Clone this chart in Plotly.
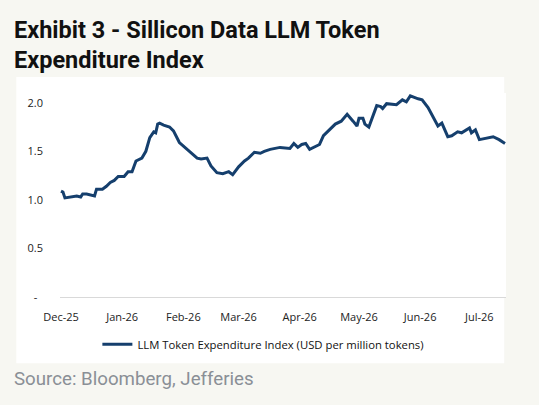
import plotly.graph_objects as go

# index values (USD per million tokens)
dates = [
    "2025-12-01", "2025-12-02", "2025-12-03", "2025-12-06", "2025-12-09", "2025-12-11",
    "2025-12-12", "2025-12-14", "2025-12-17", "2025-12-18", "2025-12-19", "2025-12-22",
    "2025-12-24", "2025-12-26", "2025-12-28", "2025-12-30", "2026-01-02", "2026-01-04",
    "2026-01-06", "2026-01-08", "2026-01-11", "2026-01-13", "2026-01-15", "2026-01-17",
    "2026-01-18", "2026-01-19", "2026-01-20", "2026-01-22", "2026-01-25", "2026-01-27",
    "2026-01-30", "2026-02-03", "2026-02-05", "2026-02-08", "2026-02-10", "2026-02-13",
    "2026-02-15", "2026-02-18", "2026-02-21", "2026-02-24", "2026-02-26", "2026-03-01",
    "2026-03-04", "2026-03-06", "2026-03-09", "2026-03-12", "2026-03-14", "2026-03-17",
    "2026-03-22", "2026-03-27", "2026-03-29", "2026-03-31", "2026-04-02", "2026-04-04",
    "2026-04-06", "2026-04-09", "2026-04-11", "2026-04-13", "2026-04-16", "2026-04-19",
    "2026-04-22", "2026-04-25", "2026-04-28", "2026-04-30", "2026-05-01", "2026-05-03",
    "2026-05-04", "2026-05-06", "2026-05-10", "2026-05-12", "2026-05-13", "2026-05-15",
    "2026-05-20", "2026-05-23", "2026-05-25", "2026-05-27", "2026-05-31", "2026-06-02",
    "2026-06-05", "2026-06-08", "2026-06-10", "2026-06-12", "2026-06-15", "2026-06-17",
    "2026-06-20", "2026-06-22", "2026-06-26", "2026-06-27", "2026-06-29", "2026-07-01",
    "2026-07-05", "2026-07-08", "2026-07-11", "2026-07-14",
]
index_values = [
    1.09, 1.08, 1.02, 1.03, 1.04, 1.03,
    1.06, 1.06, 1.05, 1.04, 1.11, 1.11,
    1.14, 1.18, 1.20, 1.24, 1.24, 1.29,
    1.29, 1.40, 1.43, 1.50, 1.64, 1.70,
    1.69, 1.78, 1.79, 1.77, 1.75, 1.71,
    1.59, 1.52, 1.48, 1.43, 1.42, 1.43,
    1.35, 1.28, 1.27, 1.29, 1.26, 1.34,
    1.40, 1.43, 1.49, 1.48, 1.50, 1.52,
    1.54, 1.53, 1.58, 1.54, 1.57, 1.58,
    1.52, 1.55, 1.57, 1.66, 1.72, 1.78,
    1.81, 1.88, 1.81, 1.76, 1.84, 1.84,
    1.78, 1.75, 1.97, 1.96, 1.94, 1.99,
    1.98, 2.03, 2.01, 2.07, 2.04, 2.03,
    1.95, 1.83, 1.76, 1.79, 1.65, 1.66,
    1.70, 1.69, 1.74, 1.69, 1.72, 1.62,
    1.64, 1.65, 1.62, 1.58,
]

x_tick_dates = ["2025-12-01", "2026-01-01", "2026-02-01", "2026-03-01",
                "2026-04-01", "2026-05-01", "2026-06-01", "2026-07-01"]
x_tick_labels = ["Dec-25", "Jan-26", "Feb-26", "Mar-26", "Apr-26", "May-26", "Jun-26", "Jul-26"]
y_tick_vals = [0, 0.5, 1.0, 1.5, 2.0]
y_tick_labels = ["-  ", "0.5", "1.0", "1.5", "2.0"]

series_name = "LLM Token Expenditure Index (USD per million tokens)"
navy = "#153f6d"
tick_font = dict(family="Open Sans", size=11, color="#222222")
title_font = dict(family="Roboto", size=23.5, color="#111111")

fig = go.Figure()
fig.add_trace(go.Scatter(x=dates, y=index_values, mode="lines", name=series_name,
                         line=dict(color=navy, width=3)))

fig.update_layout(
    width=539, height=405,
    margin=dict(l=60, r=33, t=93, b=108),
    paper_bgcolor="#f7f7f2",
    plot_bgcolor="white",
    showlegend=True,
    legend=dict(orientation="h", x=0.456, xanchor="center", y=-0.16, yanchor="top",
                font=dict(family="Open Sans", size=11.3, color="#111111"),
                bgcolor="rgba(0,0,0,0)"),
    shapes=[dict(type="rect", xref="paper", yref="paper", layer="below",
                 x0=-0.098, x1=0.996, y0=-0.325, y1=1.078,
                 fillcolor="white", line=dict(width=0))],
    annotations=[
        dict(text="<b>Exhibit 3 - Sillicon Data LLM Token</b>", xref="paper", yref="paper",
             x=-0.108, y=1.311, xanchor="left", yanchor="middle", showarrow=False,
             font=title_font),
        dict(text="<b>Expenditure Index</b>", xref="paper", yref="paper",
             x=-0.108, y=1.162, xanchor="left", yanchor="middle", showarrow=False,
             font=title_font),
        dict(text="Source: Bloomberg, Jefferies", xref="paper", yref="paper",
             x=-0.108, y=-0.40, xanchor="left", yanchor="middle", showarrow=False,
             font=dict(family="Roboto", size=18.7, color="#8a8f96")),
    ],
)

fig.update_xaxes(type="date", range=["2025-11-30 12:00", "2026-07-14 12:00"],
                 tickvals=x_tick_dates, ticktext=x_tick_labels, showgrid=False,
                 showline=True, linecolor="#d9d9d9", linewidth=1, ticks="",
                 tickfont=tick_font, ticklabelstandoff=10)
fig.update_yaxes(range=[0, 2.1], tickvals=y_tick_vals, ticktext=y_tick_labels,
                 showgrid=False, zeroline=False, showline=False, ticks="",
                 tickfont=tick_font, ticklabelstandoff=16)

# drop the default body margin so the figure sits at the window's corner
fig.write_html("out.html", config={"displayModeBar": False},
               post_script="document.body.style.margin='0';")
